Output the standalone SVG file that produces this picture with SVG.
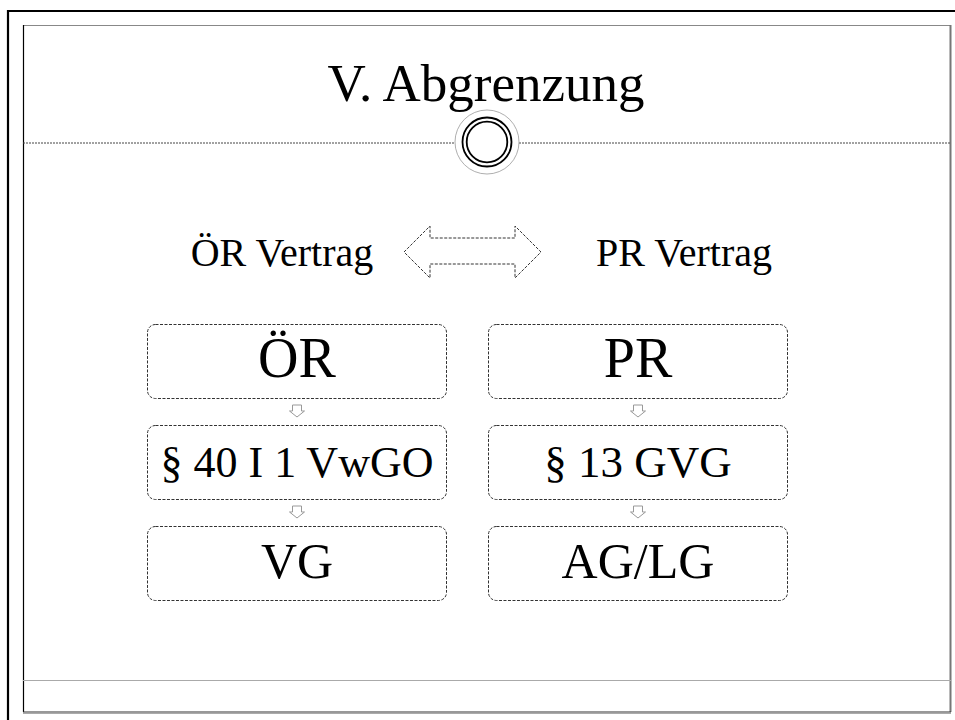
<svg xmlns="http://www.w3.org/2000/svg" width="955" height="720" viewBox="0 0 955 720">
<style>
  .t { font-family: "Liberation Serif", "Times New Roman", serif; fill: #000; text-anchor: middle; }
  .box { fill: #fff; stroke: #333; stroke-width: 1; stroke-dasharray: 3 1.5; }
  .sm { fill: #fff; stroke: #999; stroke-width: 1; }
</style>
<defs>
  <path id="darr" d="M-4.5,0 L4.5,0 L4.5,6 L7.5,6 L0,12 L-7.5,6 L-4.5,6 Z"/>
</defs>
<rect x="0" y="0" width="955" height="720" fill="#fff"/>
<!-- outer frame -->
<line x1="7" y1="11" x2="955" y2="11" stroke="#000" stroke-width="2.2"/>
<line x1="8" y1="10" x2="8" y2="720" stroke="#000" stroke-width="2.2"/>
<!-- inner slide -->
<line x1="23" y1="25.5" x2="951" y2="25.5" stroke="#888" stroke-width="1"/>
<line x1="950.5" y1="25" x2="950.5" y2="712" stroke="#777" stroke-width="2"/>
<line x1="23.5" y1="25" x2="23.5" y2="712" stroke="#000" stroke-width="1.2"/>
<line x1="23" y1="712" x2="951" y2="712" stroke="#333" stroke-width="1.2"/>
<line x1="23" y1="713.5" x2="951" y2="713.5" stroke="#aaa" stroke-width="1"/>
<line x1="23" y1="680.5" x2="951" y2="680.5" stroke="#aaa" stroke-width="1"/>
<!-- header -->
<text class="t" x="486" y="101" font-size="53">V. Abgrenzung</text>
<line x1="23" y1="143" x2="455" y2="143" stroke="#444" stroke-width="1" stroke-dasharray="2 1"/>
<line x1="519" y1="143" x2="951" y2="143" stroke="#444" stroke-width="1" stroke-dasharray="2 1"/>
<circle cx="487" cy="142" r="32" fill="#fff" stroke="#999" stroke-width="0.8"/>
<circle cx="487" cy="142" r="24.5" fill="none" stroke="#000" stroke-width="1.8"/>
<circle cx="487" cy="142" r="20.3" fill="none" stroke="#000" stroke-width="1.8"/>
<!-- labels -->
<text class="t" x="282" y="266" font-size="40">ÖR Vertrag</text>
<text class="t" x="684" y="266" font-size="40">PR Vertrag</text>
<path d="M404,252 L430,226 L430,238 L515,238 L515,226 L541,252 L515,278 L515,264 L430,264 L430,278 Z" fill="#fff" stroke="#333" stroke-width="1" stroke-dasharray="3 1.5"/>
<!-- connectors -->
<g id="connectors">
  <use href="#darr" class="sm" x="297" y="405"/>
  <use href="#darr" class="sm" x="297" y="506"/>
  <use href="#darr" class="sm" x="638" y="405"/>
  <use href="#darr" class="sm" x="638" y="506"/>
</g>
<!-- nodes -->
<g id="n-oer">
  <rect class="box" x="147.5" y="324.5" width="299" height="74" rx="8"/>
  <text class="t" x="297" y="377" font-size="56">ÖR</text>
</g>
<g id="n-40">
  <rect class="box" x="147.5" y="425.5" width="299" height="74" rx="8"/>
  <text class="t" x="297" y="477" font-size="44">§ 40 I 1 VwGO</text>
</g>
<g id="n-vg">
  <rect class="box" x="147.5" y="526.5" width="299" height="74" rx="8"/>
  <text class="t" x="297" y="578" font-size="50">VG</text>
</g>
<g id="n-pr">
  <rect class="box" x="488.5" y="324.5" width="299" height="74" rx="8"/>
  <text class="t" x="638" y="377" font-size="56">PR</text>
</g>
<g id="n-13">
  <rect class="box" x="488.5" y="425.5" width="299" height="74" rx="8"/>
  <text class="t" x="638" y="477" font-size="45">§ 13 GVG</text>
</g>
<g id="n-aglg">
  <rect class="box" x="488.5" y="526.5" width="299" height="74" rx="8"/>
  <text class="t" x="638" y="578" font-size="50">AG/LG</text>
</g>
</svg>
